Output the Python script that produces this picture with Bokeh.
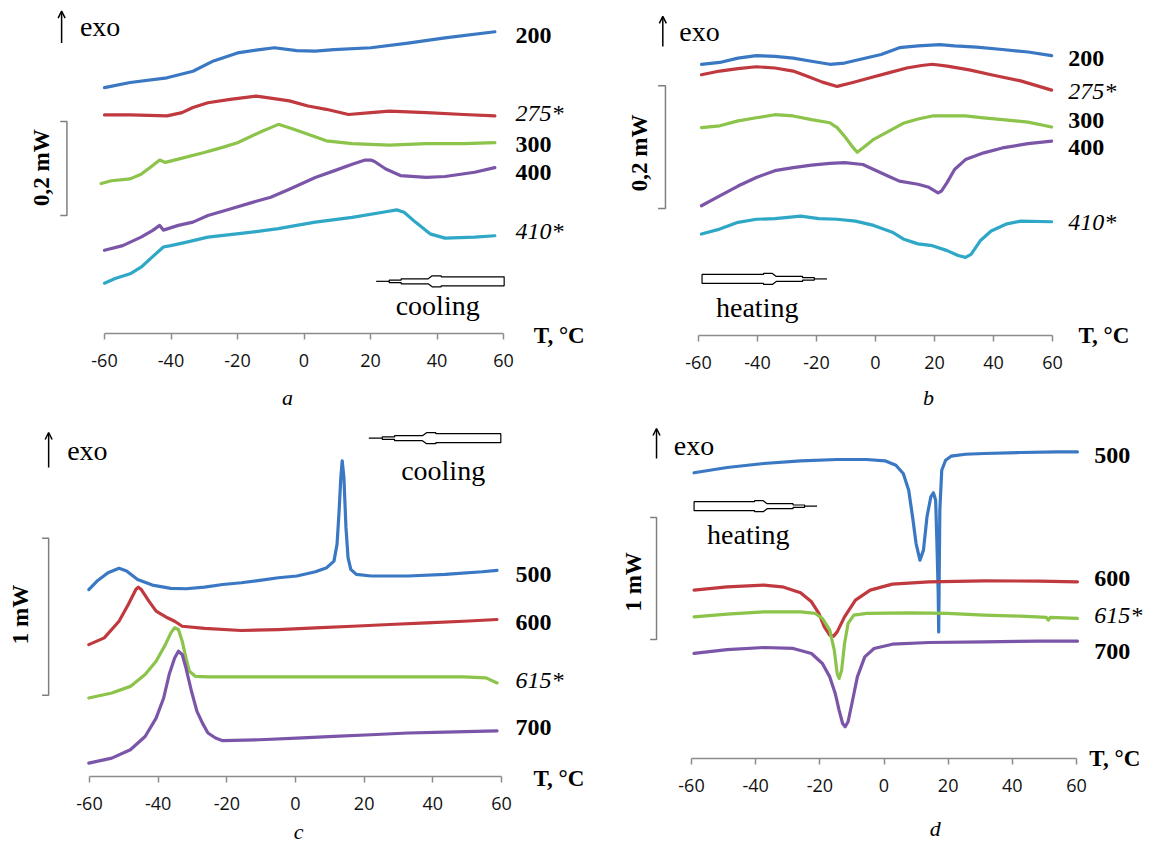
import math
from bokeh.plotting import figure
from bokeh.layouts import column, row
from bokeh.models import Range1d, FixedTicker, Label, Arrow, OpenHead
from bokeh.embed import file_html
from bokeh.resources import INLINE

# ---------------- data ----------------
TICKS = [-60, -40, -20, 0, 20, 40, 60]
TICK_LABELS = ["-60", "-40", "-20", "0", "20", "40", "60"]

# panel a (cooling, mW with offsets)
A_NAMES = ["200", "275*", "300", "400", "410*"]
A_200_T = [-60, -52.3, -41.2, -33.4, -27.2, -20, -13.3, -8.9, -2.2, 3.4, 9, 20.1, 31.3, 42.4, 57.4]
A_200_Y = [0.523, 0.534, 0.544, 0.558, 0.580, 0.597, 0.604, 0.608, 0.602, 0.601, 0.604, 0.608, 0.618, 0.629, 0.642]
A_275_T = [-60, -52.3, -41.2, -36.7, -33.4, -28.9, -22.2, -14.4, -11.1, -4.4, 1.2, 6.7, 13.4, 20.1, 25.7, 36.8, 48.0, 57.4]
A_275_Y = [0.465, 0.465, 0.463, 0.470, 0.481, 0.491, 0.498, 0.505, 0.502, 0.495, 0.484, 0.477, 0.466, 0.470, 0.473, 0.470, 0.466, 0.463]
A_300_T = [-61, -57.9, -52.3, -49, -45.6, -43.4, -41.7, -37.8, -30, -24.5, -20, -13.3, -10, -7.7, -3.3, 1.2, 6.7, 14.5, 25.7, 36.8, 48, 57.4]
A_300_Y = [0.319, 0.325, 0.329, 0.339, 0.357, 0.369, 0.364, 0.371, 0.385, 0.396, 0.406, 0.428, 0.438, 0.445, 0.435, 0.424, 0.410, 0.404, 0.401, 0.404, 0.404, 0.406]
A_400_T = [-60, -54.5, -49, -45.6, -43.4, -42.3, -37.8, -33.4, -28.9, -22.2, -15.5, -10, -4.4, 3.4, 9, 14.5, 18.4, 20.1, 21.2, 24.6, 29, 36.8, 42.4, 51.3, 57.4]
A_400_Y = [0.177, 0.187, 0.205, 0.219, 0.230, 0.220, 0.230, 0.237, 0.251, 0.265, 0.279, 0.290, 0.307, 0.332, 0.346, 0.360, 0.369, 0.369, 0.366, 0.350, 0.336, 0.332, 0.334, 0.343, 0.353]
A_410_T = [-60, -56.8, -52.3, -49, -45.6, -42.3, -40.1, -35.6, -28.9, -18.9, -7.7, -2.2, 3.4, 14.5, 24.6, 27.9, 30.1, 33.5, 37.9, 42.4, 51.3, 57.4]
A_410_Y = [0.107, 0.117, 0.127, 0.141, 0.163, 0.184, 0.187, 0.194, 0.205, 0.213, 0.223, 0.230, 0.237, 0.247, 0.259, 0.263, 0.258, 0.237, 0.212, 0.203, 0.205, 0.208]

# panel b (heating)
B_NAMES = ["200", "275*", "300", "400", "410*"]
B_200_T = [-59, -52.8, -46.6, -40.4, -34.1, -27.9, -21.7, -15.5, -10.5, -4.3, 1.9, 8.1, 14.4, 21.8, 26.8, 34.3, 43, 51.7, 59.7]
B_200_Y = [0.441, 0.444, 0.451, 0.455, 0.454, 0.451, 0.446, 0.441, 0.443, 0.450, 0.457, 0.468, 0.471, 0.473, 0.471, 0.469, 0.465, 0.461, 0.455]
B_275_T = [-59, -52.8, -46.6, -40.4, -34.1, -27.9, -22.9, -18, -13, -8, -1.8, 4.4, 10.6, 15.6, 19.3, 24.3, 31.8, 39.2, 49.2, 59.7]
B_275_Y = [0.424, 0.430, 0.434, 0.437, 0.435, 0.430, 0.421, 0.412, 0.405, 0.411, 0.419, 0.427, 0.435, 0.439, 0.441, 0.438, 0.432, 0.424, 0.414, 0.399]
B_300_T = [-59, -52.8, -46.6, -40.4, -34.1, -27.9, -21.7, -15.5, -13, -10.5, -8, -6.2, -4.3, -0.6, 4.4, 9.4, 14.4, 19.3, 24.3, 30.5, 36.7, 43, 51.7, 59.7]
B_300_Y = [0.338, 0.341, 0.349, 0.354, 0.359, 0.357, 0.351, 0.346, 0.338, 0.324, 0.308, 0.298, 0.305, 0.319, 0.332, 0.345, 0.352, 0.357, 0.357, 0.357, 0.354, 0.351, 0.347, 0.339]
B_400_T = [-59, -52.8, -46.6, -40.4, -34.1, -27.9, -21.7, -15.5, -10.5, -4.3, -0.6, 4.4, 8.1, 14.4, 18.1, 21.2, 22.4, 24.3, 26.8, 30.5, 36.7, 43, 51.7, 59.7]
B_400_Y = [0.211, 0.227, 0.243, 0.257, 0.268, 0.273, 0.277, 0.280, 0.281, 0.278, 0.270, 0.259, 0.251, 0.246, 0.241, 0.232, 0.235, 0.249, 0.270, 0.286, 0.297, 0.305, 0.312, 0.316]
B_410_T = [-59, -52.8, -46.6, -40.4, -34.1, -25.4, -19.2, -13, -6.8, -0.6, 5.7, 9.4, 14.4, 19.3, 24.3, 28, 30.5, 32.4, 35.5, 39.2, 44.2, 49.2, 59.7]
B_410_Y = [0.165, 0.173, 0.184, 0.189, 0.190, 0.194, 0.190, 0.189, 0.186, 0.179, 0.168, 0.157, 0.149, 0.146, 0.138, 0.130, 0.127, 0.132, 0.154, 0.170, 0.181, 0.186, 0.185]

# panel c (cooling)
C_NAMES = ["500", "600", "615*", "700"]
C_500_T = [-60.2, -57.8, -54.6, -51.4, -49.2, -46, -41.7, -36.3, -31.9, -26.5, -21.2, -15.8, -10.4, -5, 0.4, 5.8, 9.1, 11.2, 12.1, 12.7, 13.2, 13.6, 14.1, 14.7, 15.3, 16.1, 17.7, 22, 32.8, 43.6, 54.4, 58.7]
C_500_Y = [1.191, 1.245, 1.298, 1.326, 1.309, 1.255, 1.219, 1.198, 1.196, 1.206, 1.223, 1.234, 1.249, 1.266, 1.277, 1.304, 1.330, 1.372, 1.479, 1.691, 1.904, 2.011, 1.904, 1.585, 1.394, 1.319, 1.287, 1.277, 1.277, 1.287, 1.304, 1.313]
C_600_T = [-60.2, -55.7, -51.4, -48.7, -46.5, -45.8, -44.9, -42.7, -40.6, -37.3, -35.2, -33, -26.5, -15.8, -5, 5.8, 16.6, 27.4, 38.2, 49, 58.7]
C_600_Y = [0.840, 0.883, 0.989, 1.096, 1.191, 1.206, 1.191, 1.117, 1.053, 1.011, 0.989, 0.957, 0.943, 0.930, 0.936, 0.947, 0.957, 0.968, 0.979, 0.989, 1.000]
C_615_T = [-60.2, -53.5, -48.1, -43.8, -40.6, -37.9, -36.3, -35.2, -34.1, -33, -31.9, -30.9, -29.2, -25.5, -10.4, 11.2, 32.8, 49, 55.5, 58.7]
C_615_Y = [0.500, 0.532, 0.574, 0.649, 0.734, 0.840, 0.915, 0.947, 0.936, 0.862, 0.755, 0.670, 0.638, 0.634, 0.634, 0.634, 0.634, 0.634, 0.628, 0.596]
C_700_T = [-60.2, -53.5, -48.1, -43.8, -40.6, -38.4, -36.8, -35.2, -34.1, -33, -31.9, -30.3, -28.7, -27.1, -25.5, -23.3, -21.2, -10.4, 0.4, 11.2, 22, 32.8, 43.6, 58.7]
C_700_Y = [0.085, 0.117, 0.170, 0.255, 0.372, 0.500, 0.649, 0.755, 0.798, 0.777, 0.691, 0.543, 0.415, 0.340, 0.277, 0.245, 0.228, 0.234, 0.245, 0.255, 0.266, 0.277, 0.283, 0.291]

# panel d (heating)
D_NAMES = ["500", "600", "615*", "700"]
D_500_T = [-59.2, -48.9, -37.5, -26, -14.6, -5.4, 0.3, 3.7, 6, 7.7, 8.9, 10, 11.2, 12.3, 13.4, 14.6, 15.4, 16.1, 16.5, 16.9, 17.05, 17.2, 17.4, 18, 19.2, 20.9, 25.4, 31.2, 42.6, 54, 60.3]
D_500_Y = [2.342, 2.385, 2.418, 2.440, 2.451, 2.451, 2.440, 2.404, 2.336, 2.199, 1.981, 1.762, 1.626, 1.708, 1.981, 2.145, 2.178, 2.117, 1.762, 1.352, 1.038, 1.489, 2.036, 2.363, 2.445, 2.478, 2.494, 2.500, 2.508, 2.514, 2.514]
D_600_T = [-59.2, -48.9, -37.5, -31.7, -26, -22.6, -20.3, -18.6, -16.9, -15.7, -14.6, -12.3, -8.9, -4.3, 2.6, 14, 31.2, 48.3, 60.3]
D_600_Y = [1.380, 1.407, 1.421, 1.407, 1.358, 1.284, 1.189, 1.079, 1.011, 1.003, 1.038, 1.161, 1.298, 1.380, 1.429, 1.448, 1.456, 1.454, 1.448]
D_615_T = [-59.2, -48.9, -37.5, -26, -21.4, -19.2, -16.9, -15.5, -14.6, -14.0, -13.2, -12.3, -11.2, -9.4, -5.4, 8.3, 19.7, 31.2, 42.6, 50.6, 51.2, 51.8, 60.3]
D_615_Y = [1.161, 1.183, 1.202, 1.202, 1.189, 1.148, 1.052, 0.888, 0.697, 0.656, 0.724, 0.943, 1.107, 1.175, 1.189, 1.194, 1.189, 1.175, 1.167, 1.156, 1.134, 1.156, 1.148]
D_700_T = [-59.2, -48.9, -37.5, -28.3, -22.6, -19.2, -16.9, -15.2, -14, -12.9, -12.1, -11.2, -10, -8.3, -6, -3.1, 2.6, 14, 31.2, 48.3, 60.3]
D_700_Y = [0.861, 0.893, 0.910, 0.902, 0.861, 0.779, 0.669, 0.533, 0.396, 0.287, 0.260, 0.301, 0.451, 0.669, 0.833, 0.902, 0.937, 0.951, 0.956, 0.962, 0.962]

# ---------------- style ----------------
BLUE, RED, GREEN, PURPLE, CYAN = "#3a78c4", "#c0393f", "#8cc34a", "#7b55a8", "#2ea8c6"
SERIF = "Liberation Serif"
SANS = "Open Sans"
AXIS_GRAY = "#8c8c8c"


def make_panel(width, height, xl, xr, axis_y, ppu):
    """Frame covers the whole canvas; the T axis is fixed at signal level 0."""
    dpx = 120.0 / (xr - xl)
    x0 = -60 - xl * dpx
    x1 = 60 + (width - xr) * dpx
    y0 = -(height - axis_y) / ppu
    y1 = axis_y / ppu
    p = figure(width=width, height=height, x_range=Range1d(x0, x1), y_range=Range1d(y0, y1),
               output_backend="svg", toolbar_location=None, y_axis_location=None, title=None,
               min_border_left=0, min_border_right=0, min_border_top=0, min_border_bottom=0)
    p.outline_line_color = None
    p.background_fill_color = "white"
    p.border_fill_color = "white"
    p.xgrid.visible = False
    p.ygrid.visible = False
    ax = p.xaxis[0]
    ax.fixed_location = 0
    ax.bounds = (-60, 60)
    ax.ticker = FixedTicker(ticks=TICKS)
    ax.major_label_overrides = {t: s for t, s in zip(TICKS, TICK_LABELS)}
    ax.minor_tick_line_color = None
    ax.major_tick_in = 0
    ax.major_tick_out = 6
    ax.axis_line_color = AXIS_GRAY
    ax.axis_line_width = 1.5
    ax.major_tick_line_color = AXIS_GRAY
    ax.major_tick_line_width = 1.5
    ax.major_label_text_font = SANS
    ax.major_label_text_font_size = "18px"
    ax.major_label_text_color = "#111111"
    ax.major_label_standoff = 14
    return p, (xr - xl) / 120.0, ppu


def text(p, x, y, s, size, style="normal", align="left", baseline="middle", angle=0.0, font=SERIF):
    p.add_layout(Label(x=x, y=y, text=s, text_font=font, text_font_size=f"{size}px",
                       text_font_style=style, text_align=align, text_baseline=baseline,
                       angle=angle, text_color="black"))


PEN_UPPER = [(0, 4.5), (63, 4.5), (63, 5.5), (72, 5.5), (76, 2.5), (103, 2.5), (103, 1.2), (115, 1.2)]


def pen_arrow(p, x_big, y, length_px, direction, pxx, ppu):
    k = length_px / 128.0
    pts = PEN_UPPER + [(d, -h) for d, h in reversed(PEN_UPPER)]
    xs = [x_big + direction * d * k / pxx for d, h in pts]
    ys = [y + h / ppu for d, h in pts]
    p.patch(xs, ys, fill_color="white", line_color="black", line_width=1.2)
    p.line([x_big + direction * 115 * k / pxx, x_big + direction * 128 * k / pxx], [y, y],
           line_color="black", line_width=1.2)


def bracket(p, x_bar, x_tick, y0, y1):
    p.line([x_tick, x_bar, x_bar, x_tick], [y1, y1, y0, y0], line_color="#7f7f7f", line_width=1.5)


def exo(p, x, y0, y1, tx, ty):
    p.add_layout(Arrow(end=OpenHead(size=7, line_width=1.5, line_color="black"),
                       x_start=x, y_start=y0, x_end=x, y_end=y1,
                       line_width=1.5, line_color="black"))
    text(p, tx, ty, "exo", 28)


def curves(p, series, colors):
    for (t, y), c in zip(series, colors):
        p.line(t, y, line_color=c, line_width=3.2, line_join="round", line_cap="round")


def name_labels(p, x, ys, names):
    for yy, nm in zip(ys, names):
        if nm.endswith("*"):
            text(p, x, yy, nm, 24, style="italic")
        else:
            text(p, x, yy, nm, 24, style="bold")


# ---------------- panel a ----------------
pa, axx, ayy = make_panel(590, 410, 104, 503, 333, 470.0)
curves(pa, [(A_200_T, A_200_Y), (A_275_T, A_275_Y), (A_300_T, A_300_Y), (A_400_T, A_400_Y), (A_410_T, A_410_Y)],
       [BLUE, RED, GREEN, PURPLE, CYAN])
name_labels(pa, 63.6, [0.633, 0.470, 0.403, 0.343, 0.219], A_NAMES)
exo(pa, -72.9, 0.618, 0.686, -67.4, 0.654)
bracket(pa, -71.3, -73.3, 0.251, 0.451)
text(pa, -79, 0.353, "0,2 mW", 23, style="bold", align="center", angle=math.pi / 2)
pen_arrow(pa, 60.2, 0.111, 128, -1, axx, ayy)
text(pa, 40.2, 0.060, "cooling", 28, align="center")
text(pa, 69.1, -0.004, "T, °C", 23, style="bold")
text(pa, -5, -0.136, "a", 22, style="italic", align="center")

# ---------------- panel b ----------------
pb, bxx, byy = make_panel(565, 410, 108, 462, 335, 615.0)
curves(pb, [(B_200_T, B_200_Y), (B_275_T, B_275_Y), (B_300_T, B_300_Y), (B_400_T, B_400_Y), (B_410_T, B_410_Y)],
       [BLUE, RED, GREEN, PURPLE, CYAN])
name_labels(pb, 65.3, [0.451, 0.397, 0.350, 0.305, 0.184], B_NAMES)
exo(pb, -72.1, 0.470, 0.519, -66.5, 0.495)
bracket(pb, -71.2, -73.7, 0.2065, 0.406)
text(pb, -80.1, 0.297, "0,2 mW", 23, style="bold", align="center", angle=math.pi / 2)
pen_arrow(pb, -58.8, 0.092, 125, 1, bxx, byy)
text(pb, -40.1, 0.046, "heating", 28, align="center")
text(pb, 68.8, 0.0, "T, °C", 23, style="bold")
text(pb, 18, -0.101, "b", 22, style="italic", align="center")

# ---------------- panel c ----------------
pc, cxx, cyy = make_panel(590, 438, 89, 501, 366, 157.0)
curves(pc, [(C_500_T, C_500_Y), (C_600_T, C_600_Y), (C_615_T, C_615_Y), (C_700_T, C_700_Y)],
       [BLUE, RED, GREEN, PURPLE])
name_labels(pc, 64.1, [1.287, 0.979, 0.617, 0.309], C_NAMES)
exo(pc, -71.9, 1.968, 2.191, -66.5, 2.079)
bracket(pc, -71.9, -73.8, 0.517, 1.517)
text(pc, -80, 1.032, "1 mW", 23, style="bold", align="center", angle=math.pi / 2)
pen_arrow(pc, 59.8, 2.155, 132, -1, cxx, cyy)
text(pc, 43, 1.947, "cooling", 28, align="center")
text(pc, 69.3, -0.01, "T, °C", 23, style="bold")
text(pc, 0.9, -0.350, "c", 22, style="italic", align="center")

# ---------------- panel d ----------------
pd_, dxx, dyy = make_panel(565, 438, 101, 486, 348, 122.0)
curves(pd_, [(D_500_T, D_500_Y), (D_600_T, D_600_Y), (D_615_T, D_615_Y), (D_700_T, D_700_Y)],
       [BLUE, RED, GREEN, PURPLE])
name_labels(pd_, 65.5, [2.486, 1.475, 1.175, 0.874], D_NAMES)
exo(pd_, -70.9, 2.459, 2.705, -65.5, 2.568)
bracket(pd_, -70.9, -72.9, 0.975, 1.975)
text(pd_, -78.1, 1.448, "1 mW", 23, style="bold", align="center", angle=math.pi / 2)
pen_arrow(pd_, -59.2, 2.068, 123, 1, dxx, dyy)
text(pd_, -42.3, 1.839, "heating", 28, align="center")
text(pd_, 64, 0.0, "T, °C", 23, style="bold")
text(pd_, 16, -0.575, "d", 22, style="italic", align="center")

layout = column(row(pa, pb), row(pc, pd_))
open("out.html", "w").write(file_html(layout, INLINE))
